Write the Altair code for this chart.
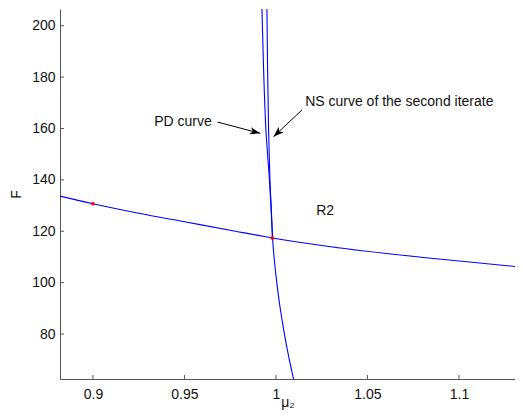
import altair as alt
import pandas as pd

# ---- data ----
# NS curve (almost horizontal)
h_mu = [0.882, 0.900, 0.925, 0.950, 0.975, 0.998, 1.030, 1.082, 1.1351]
h_F = [133.7, 130.7, 127.0, 123.7, 120.4, 117.4, 114.0, 109.7, 106.0]

# PD curve (steep, continues below the crossing)
pd_mu = [0.99235, 0.99317, 0.99448, 0.99541, 0.99645, 0.99727, 0.99814, 0.99913, 1.00044,
         1.00169, 1.00290, 1.00426, 1.00574, 1.00760, 1.00962]
pd_F = [206.5, 185.0, 160.0, 150.0, 140.0, 130.0, 117.4, 108.8, 100.2,
        93.2, 87.4, 81.5, 75.7, 69.1, 62.5]

# NS curve of the second iterate (steep, upper part)
ns2_mu = [0.99508, 0.99541, 0.99596, 0.99634, 0.99672, 0.99738, 0.99814]
ns2_F = [206.5, 185.0, 160.0, 150.0, 140.0, 130.0, 117.4]

# special points (red)
pt_mu = [0.900, 0.998]
pt_F = [130.7, 117.4]

# annotations
txt_labels = ["PD curve", "NS curve of the second iterate", "R2"]
txt_mu = [0.9335, 1.01596, 1.02202]
txt_F = [162.5, 170.4, 128.0]

arrow_names = ["PD", "NS"]
arrow_mu0 = [0.96809, 1.01421]
arrow_F0 = [162.5, 167.2]
arrow_mu1 = [0.99142, 0.99869]
arrow_F1 = [158.1, 156.8]
arrow_angle = [14.8, 136.8]

x_ticks = [0.9, 0.95, 1.0, 1.05, 1.1]
y_ticks = [80, 100, 120, 140, 160, 180, 200]

W, H = 455, 370
X_DOMAIN = [0.882, 0.882 + W / 1830.0]
Y_DOMAIN = [62.5, 206.5]
FONT = "Liberation Sans"

xs = alt.Scale(domain=X_DOMAIN, nice=False, zero=False)
ys = alt.Scale(domain=Y_DOMAIN, nice=False, zero=False)

x_axis = alt.Axis(values=x_ticks, format="~g", title="μ₂", grid=False, ticks=False,
                  labelPadding=8, titleY=27, titleBaseline="alphabetic",
                  domainColor="#555555",
                  labelColor="#111111", titleColor="#111111", labelFontSize=14,
                  titleFontSize=14, titleFontWeight="normal", labelFont=FONT,
                  titleFont=FONT, labelFlush=False)
y_axis = alt.Axis(values=y_ticks, title="F", grid=False, ticks=False, labelPadding=5,
                  titlePadding=8, domainColor="#555555", labelColor="#111111",
                  titleColor="#111111", labelFontSize=14, titleFontSize=14,
                  titleFontWeight="normal", labelFont=FONT, titleFont=FONT,
                  labelFlush=False)


def X(field="mu"):
    return alt.X(f"{field}:Q", scale=xs, axis=x_axis)


def Y(field="F"):
    return alt.Y(f"{field}:Q", scale=ys, axis=y_axis)


curves = []
for name, mus, Fs in [("h", h_mu, h_F), ("pd", pd_mu, pd_F), ("ns2", ns2_mu, ns2_F)]:
    for i, (m, f) in enumerate(zip(mus, Fs)):
        curves.append({"curve": name, "i": i, "mu": m, "F": f})
curves_df = pd.DataFrame(curves)

lines = alt.Chart(curves_df).mark_line(color="#0000ff", strokeWidth=1.1, clip=True,
                                       interpolate="monotone").encode(
    x=X(), y=Y(), detail="curve:N", order="i:Q")

pts_df = pd.DataFrame({"mu": pt_mu, "F": pt_F})
points = alt.Chart(pts_df).mark_point(filled=True, color="#ff0000", size=10, shape="square",
                                      opacity=1).encode(x=X(), y=Y())

xt_df = pd.DataFrame({"mu": x_ticks})
xticks = alt.Chart(xt_df).mark_rule(color="#555555", strokeWidth=1).encode(
    x=X(), y=alt.value(H), y2=alt.value(H - 4))

yt_df = pd.DataFrame({"F": y_ticks})
yticks = alt.Chart(yt_df).mark_rule(color="#555555", strokeWidth=1).encode(
    y=Y(), x=alt.value(0), x2=alt.value(4))

arr_df = pd.DataFrame({"name": arrow_names, "mu0": arrow_mu0, "F0": arrow_F0,
                       "mu1": arrow_mu1, "F1": arrow_F1, "ang": arrow_angle})
arrow_lines = alt.Chart(arr_df).mark_rule(color="black", strokeWidth=1).encode(
    x=X("mu0"), y=Y("F0"), x2="mu1:Q", y2="F1:Q")
arrow_heads = alt.Chart(arr_df).mark_point(
    filled=True, color="black", opacity=1, size=110,
    shape="M0,0 L-2,-0.7 L-1.45,0 L-2,0.7 Z").encode(
    x=X("mu1"), y=Y("F1"), angle=alt.Angle("ang:Q", scale=None))

txt_df = pd.DataFrame({"label": txt_labels, "mu": txt_mu, "F": txt_F})
texts = alt.Chart(txt_df).mark_text(align="left", baseline="middle", font=FONT, fontSize=14,
                                    color="#111111").encode(x=X(), y=Y(), text="label:N")

chart = alt.layer(lines, xticks, yticks, arrow_lines, arrow_heads, texts, points).properties(
    width=W, height=H,
    autosize=alt.AutoSizeParams(type="none"),
    padding={"left": 52, "top": 1, "right": 0, "bottom": 32},
    background="white",
).configure_view(stroke=None)

chart.save("out.html", embed_options={"renderer": "svg", "actions": False})
